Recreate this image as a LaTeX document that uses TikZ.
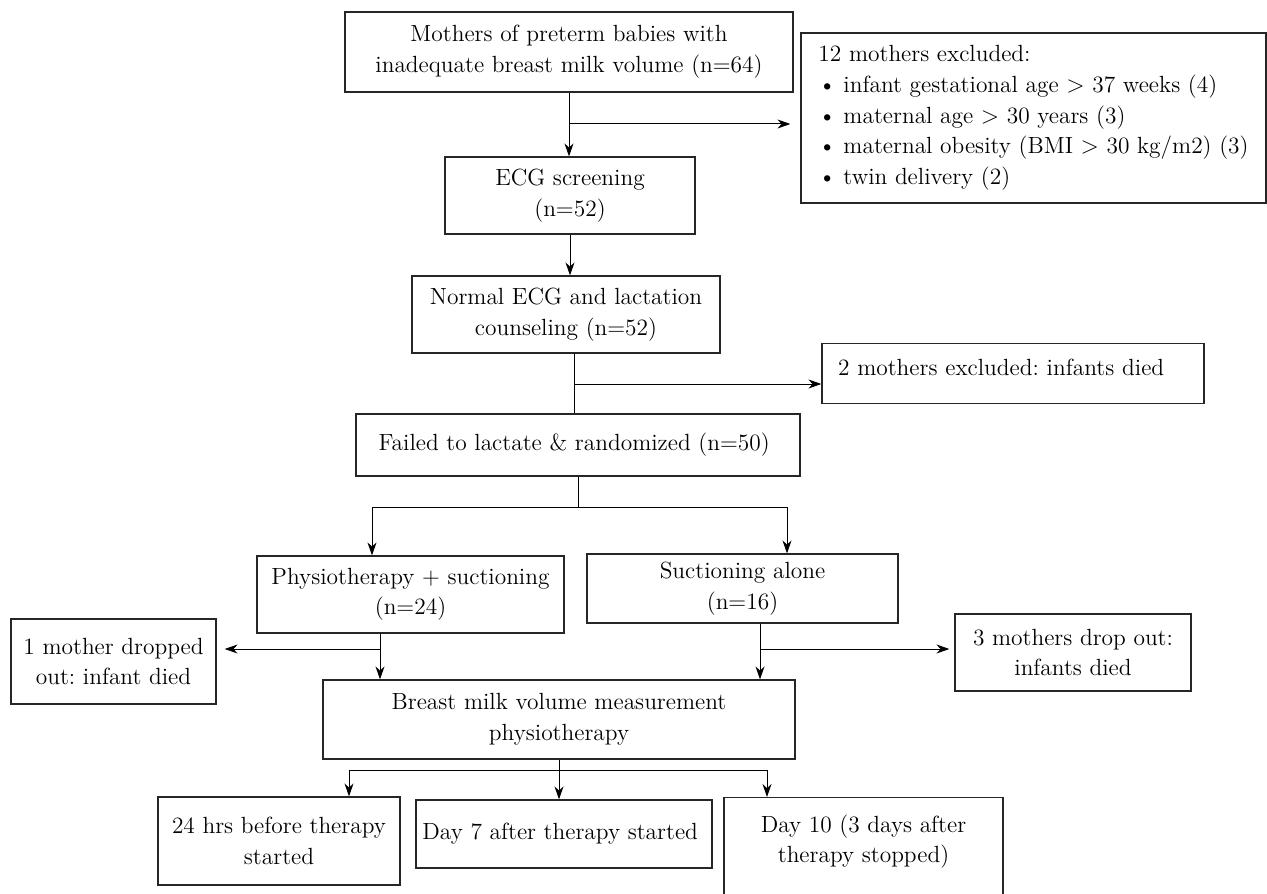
\documentclass[tikz,border=0pt]{standalone}
\usepackage{tikz}
\usetikzlibrary{arrows, arrows.meta}
\frenchspacing
\tikzstyle{boxFlow} = [rectangle, align=center, inner sep=0pt, draw=black!85, line width=0.6pt, fill=white, font=\fontsize{11.7}{15.3}\selectfont]
\tikzstyle{arrow} = [line width=0.5pt, ->, >={Stealth[length=6.5pt,width=4.5pt]}]
\tikzstyle{lineFlow} = [line width=0.5pt]

\begin{document}
\begin{tikzpicture}[x=0.5pt, y=-0.5pt]

\useasboundingbox (0,0) rectangle (1267,893);

\node (mothers) [boxFlow, minimum width=224pt, minimum height=40pt] at (569,52) {
Mothers of preterm babies with\\ inadequate breast milk volume (n=64)
};

\node (excl1) [boxFlow, align=left, minimum width=232.5pt, minimum height=85pt] at (1033.5,118) {
12 mothers excluded:\\
\makebox[12.5pt][l]{\textbullet}infant gestational age $>$ 37 weeks (4)\\
\makebox[12.5pt][l]{\textbullet}maternal age $>$ 30 years (3)\\
\makebox[12.5pt][l]{\textbullet}maternal obesity (BMI $>$ 30 kg/m2) (3)\\
\makebox[12.5pt][l]{\textbullet}twin delivery (2)
};

\node (ecg) [boxFlow, minimum width=125pt, minimum height=38.5pt] at (570,195.5) {
ECG screening\\ (n=52)
};

\node (normal) [boxFlow, minimum width=154pt, minimum height=38.5pt] at (566,314.5) {
Normal ECG and lactation\\ counseling (n=52)
};

\node (excl2) [boxFlow, align=left, inner xsep=8pt, text width=175pt, text height=16pt, text depth=14pt, anchor=north] at (1013,343) {
2 mothers excluded: infants died
};

\node (failed) [boxFlow, minimum width=222pt, minimum height=31pt] at (578,445) {
Failed to lactate \& randomized (n=50)
};

\node (physio) [boxFlow, minimum width=153.5pt, minimum height=38.5pt] at (410.5,594.5) {
Physiotherapy + suctioning\\ (n=24)
};

\node (suction) [boxFlow, minimum width=155.5pt, minimum height=34.5pt] at (742.5,588.5) {
Suctioning alone\\ (n=16)
};

\node (drop1) [boxFlow, minimum width=102.5pt, minimum height=42.5pt] at (113.5,661.5) {
1 mother dropped\\ out: infant died
};

\node (drop3) [boxFlow, minimum width=118pt, minimum height=38.5pt] at (1073,652.5) {
3 mothers drop out:\\ infants died
};

\node (breast) [boxFlow, minimum width=236pt, minimum height=39.5pt] at (559,719.5) {
Breast milk volume measurement\\ physiotherapy
};

\node (before) [boxFlow, minimum width=121pt, minimum height=44pt] at (279,841) {
24 hrs before therapy\\ started
};

\node (day7) [boxFlow, minimum width=148pt, minimum height=34pt] at (564,834) {
Day 7 after therapy started
};

\node (day10) [boxFlow, minimum width=139.5pt, text height=32.5pt, text depth=24pt, anchor=north] at (863.5,797) {
Day 10 (3 days after\\ therapy stopped)
};

% split points on the flow lines
\coordinate (splitA) at (569,124);
\coordinate (splitB) at (574,384);
\coordinate (splitC) at (578,507);
\coordinate (armL) at (372,507);
\coordinate (armR) at (787,507);
\coordinate (splitD) at (380,649);
\coordinate (splitE) at (760,649);
\coordinate (splitF) at (559,770);
\coordinate (armA) at (349,770);
\coordinate (armC) at (767,770);

\draw[arrow] (mothers.south) -- (mothers.south |- ecg.north);
\draw[arrow, shorten >=5pt] (splitA) -- (splitA -| excl1.west);
\draw[arrow] (ecg.south) -- (ecg.south |- normal.north);

\draw[lineFlow] (splitB |- normal.south) -- (splitB |- failed.north);
\draw[arrow] (splitB) -- (splitB -| excl2.west);

\draw[lineFlow] (failed.south) -- (splitC);
\draw[arrow] (splitC) -| (armL |- physio.north);
\draw[arrow] (splitC) -| (armR |- suction.north);

\draw[arrow] (splitD |- physio.south) -- (splitD |- breast.north);
\draw[arrow, shorten >=4pt] (splitD) -- (splitD -| drop1.east);
\draw[arrow] (splitE |- suction.south) -- (splitE |- breast.north);
\draw[arrow, shorten >=2.5pt] (splitE) -- (splitE -| drop3.west);

\draw[lineFlow] (breast.south) -- (splitF);
\draw[arrow] (splitF) -| (armA |- before.north);
\draw[arrow] (splitF) -- (splitF |- day7.north);
\draw[arrow] (splitF) -| (armC |- day10.north);

\end{tikzpicture}
\end{document}
